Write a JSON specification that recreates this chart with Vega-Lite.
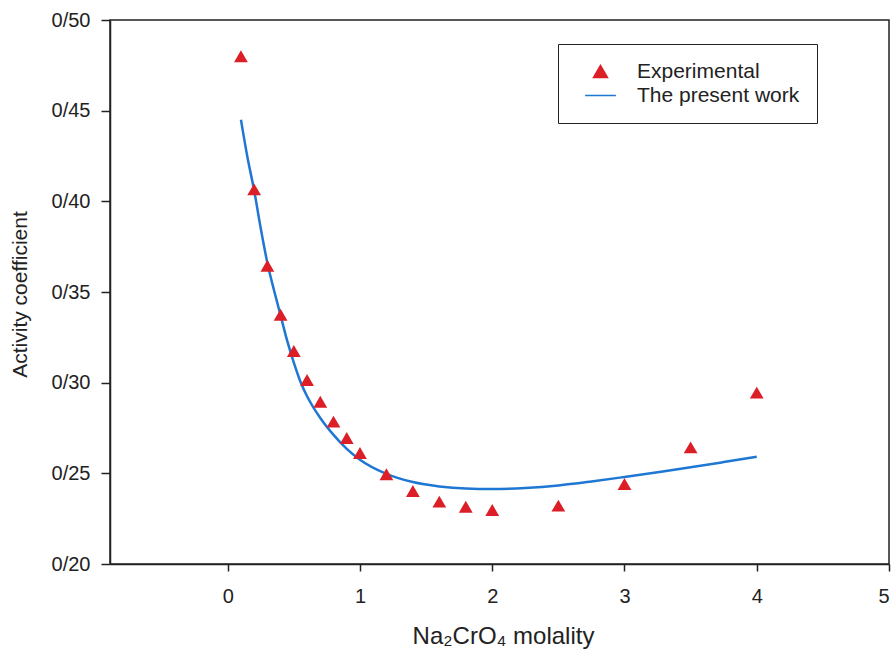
{
  "$schema": "https://vega.github.io/schema/vega-lite/v6.json",
  "width": 779,
  "height": 544,
  "autosize": {"type": "none"},
  "padding": {"left": 110, "top": 20, "right": 5, "bottom": 95},
  "background": "white",
  "config": {
    "view": {"stroke": "#222", "strokeWidth": 1.5},
    "font": "Liberation Sans",
    "axis": {
      "grid": false,
      "domainColor": "#222",
      "domainWidth": 1.5,
      "tickColor": "#222",
      "tickWidth": 1.5,
      "labelColor": "#222",
      "titleColor": "#222",
      "labelFont": "Liberation Sans",
      "titleFont": "Liberation Sans",
      "titleFontWeight": "normal"
    }
  },
  "datasets": {
    "model": [
      {"m": 0.1, "g": 0.445, "series": "The present work"},
      {"m": 0.15, "g": 0.424, "series": "The present work"},
      {"m": 0.2, "g": 0.406, "series": "The present work"},
      {"m": 0.25, "g": 0.385, "series": "The present work"},
      {"m": 0.3, "g": 0.366, "series": "The present work"},
      {"m": 0.35, "g": 0.351, "series": "The present work"},
      {"m": 0.4, "g": 0.337, "series": "The present work"},
      {"m": 0.45, "g": 0.323, "series": "The present work"},
      {"m": 0.5, "g": 0.311, "series": "The present work"},
      {"m": 0.55, "g": 0.3005, "series": "The present work"},
      {"m": 0.6, "g": 0.2925, "series": "The present work"},
      {"m": 0.7, "g": 0.2805, "series": "The present work"},
      {"m": 0.8, "g": 0.2712, "series": "The present work"},
      {"m": 0.9, "g": 0.2635, "series": "The present work"},
      {"m": 1.0, "g": 0.2575, "series": "The present work"},
      {"m": 1.2, "g": 0.2497, "series": "The present work"},
      {"m": 1.4, "g": 0.2452, "series": "The present work"},
      {"m": 1.6, "g": 0.2428, "series": "The present work"},
      {"m": 1.8, "g": 0.2416, "series": "The present work"},
      {"m": 2.0, "g": 0.2413, "series": "The present work"},
      {"m": 2.25, "g": 0.2419, "series": "The present work"},
      {"m": 2.5, "g": 0.2433, "series": "The present work"},
      {"m": 2.75, "g": 0.2455, "series": "The present work"},
      {"m": 3.0, "g": 0.248, "series": "The present work"},
      {"m": 3.25, "g": 0.2506, "series": "The present work"},
      {"m": 3.5, "g": 0.2533, "series": "The present work"},
      {"m": 3.75, "g": 0.2562, "series": "The present work"},
      {"m": 4.0, "g": 0.2592, "series": "The present work"}
    ],
    "exp": [
      {"m": 0.1, "g": 0.48, "series": "Experimental"},
      {"m": 0.2, "g": 0.4066, "series": "Experimental"},
      {"m": 0.3, "g": 0.3645, "series": "Experimental"},
      {"m": 0.4, "g": 0.3375, "series": "Experimental"},
      {"m": 0.5, "g": 0.3175, "series": "Experimental"},
      {"m": 0.6, "g": 0.3015, "series": "Experimental"},
      {"m": 0.7, "g": 0.2895, "series": "Experimental"},
      {"m": 0.8, "g": 0.2785, "series": "Experimental"},
      {"m": 0.9, "g": 0.2695, "series": "Experimental"},
      {"m": 1.0, "g": 0.2612, "series": "Experimental"},
      {"m": 1.2, "g": 0.2495, "series": "Experimental"},
      {"m": 1.4, "g": 0.2403, "series": "Experimental"},
      {"m": 1.6, "g": 0.2344, "series": "Experimental"},
      {"m": 1.8, "g": 0.2316, "series": "Experimental"},
      {"m": 2.0, "g": 0.2298, "series": "Experimental"},
      {"m": 2.5, "g": 0.2322, "series": "Experimental"},
      {"m": 3.0, "g": 0.2441, "series": "Experimental"},
      {"m": 3.5, "g": 0.2643, "series": "Experimental"},
      {"m": 4.0, "g": 0.2945, "series": "Experimental"}
    ]
  },
  "encoding": {
    "x": {
      "field": "m",
      "type": "quantitative",
      "scale": {"domain": [-0.89, 5], "nice": false, "zero": false},
      "axis": {
        "values": [0, 1, 2, 3, 4, 5],
        "format": "d",
        "labelFontSize": 20,
        "tickSize": 7,
        "labelPadding": 15,
        "title": "Na₂CrO₄ molality",
        "titleFontSize": 24,
        "titleX": 393,
        "titleY": 79,
        "titleAlign": "center",
        "titleBaseline": "alphabetic"
      }
    },
    "y": {
      "field": "g",
      "type": "quantitative",
      "scale": {"domain": [0.2, 0.5], "nice": false, "zero": false},
      "axis": {
        "values": [0.2, 0.25, 0.3, 0.35, 0.4, 0.45, 0.5],
        "labelExpr": "replace(format(datum.value, '.2f'), '.', '/')",
        "labelFontSize": 20,
        "tickSize": 9,
        "labelPadding": 11,
        "title": "Activity coefficient",
        "titleFontSize": 21,
        "titleX": -90,
        "titleY": 274,
        "titleAngle": 270,
        "titleAlign": "center",
        "titleBaseline": "middle"
      }
    }
  },
  "layer": [
    {
      "data": {"name": "model"},
      "mark": {"type": "line", "strokeWidth": 2.5, "interpolate": "monotone"},
      "encoding": {
        "color": {
          "field": "series",
          "type": "nominal",
          "scale": {"domain": ["Experimental", "The present work"], "range": ["#dc1f26", "#1f77d4"]}
        }
      }
    },
    {
      "data": {"name": "exp"},
      "mark": {"type": "point", "filled": true, "size": 190, "opacity": 1},
      "encoding": {
        "color": {
          "field": "series",
          "type": "nominal",
          "scale": {"domain": ["Experimental", "The present work"], "range": ["#dc1f26", "#1f77d4"]},
          "legend": {
            "orient": "none",
            "legendX": 448,
            "legendY": 24,
            "title": null,
            "strokeColor": "#222",
            "fillColor": "white",
            "padding": 17,
            "labelFontSize": 21,
            "labelFont": "Liberation Sans",
            "labelColor": "#222",
            "labelLimit": 300,
            "symbolSize": 196,
            "symbolOffset": 15,
            "labelOffset": 26,
            "rowPadding": 2,
            "encode": {
              "legend": {"update": {"strokeWidth": {"value": 1.5}}},
              "symbols": {
                "update": {
                  "stroke": {"signal": "datum.value === 'Experimental' ? 'transparent' : '#1f77d4'"},
                  "strokeWidth": {"value": 2.5},
                  "fill": {"signal": "datum.value === 'Experimental' ? '#dc1f26' : 'transparent'"},
                  "shape": {"signal": "datum.value === 'Experimental' ? 'triangle-up' : 'M-2.2,0H2.2'"},
                  "opacity": {"value": 1}
                }
              }
            }
          }
        },
        "shape": {
          "field": "series",
          "type": "nominal",
          "scale": {"domain": ["Experimental", "The present work"], "range": ["triangle-up", "M-2.2,0H2.2"]},
          "legend": {
            "orient": "none",
            "legendX": 448,
            "legendY": 24,
            "title": null
          }
        }
      }
    }
  ]
}
